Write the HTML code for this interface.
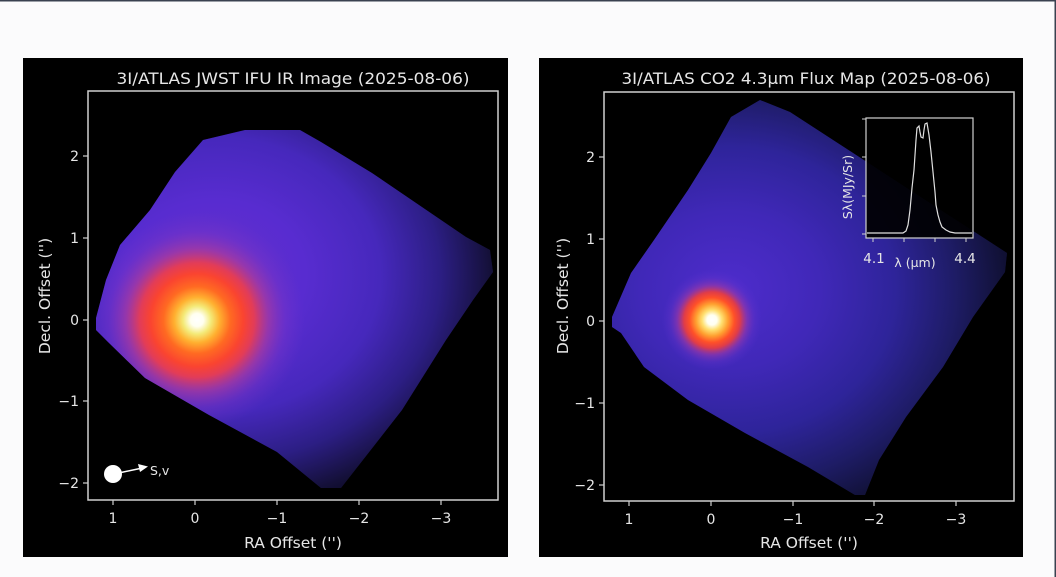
<!DOCTYPE html>
<html><head><meta charset="utf-8"><style>
html,body{margin:0;padding:0;background:#fbfbfc;}
svg{display:block;}
text{font-family:"DejaVu Sans","Liberation Sans",sans-serif;fill:#e6e6e6;}
</style></head><body>
<svg width="1056" height="577" viewBox="0 0 1056 577" xmlns="http://www.w3.org/2000/svg">
<defs>
<clipPath id="cl"><polygon points="96,318 106,280 120,245 150,210 175,172 203,140 245,130 300,130 321,142 372,173 466,237 490,250 493,272 473,300 446,340 402,410 341,488 321,488 277,452 209,415 145,378 108,342 96,330"/></clipPath>
<clipPath id="cr"><polygon points="612,317 631,273 654,240 688,190 711,153 731,117 760,100 790,112 1007,253 1005,272 973,317 943,367 906,417 879,460 865,495 855,495 808,467 745,433 688,400 644,367 621,333 612,327"/></clipPath>
<radialGradient id="gl" cx="0.5" cy="0.5" r="0.5">
<stop offset="0" stop-color="#6630cc"/>
<stop offset="0.3" stop-color="#582cd0"/>
<stop offset="0.55" stop-color="#4628bc"/>
<stop offset="0.75" stop-color="#2c1e84"/>
<stop offset="0.92" stop-color="#141038"/>
<stop offset="1" stop-color="#0a0820"/>
</radialGradient>
<radialGradient id="cl1" cx="0.5" cy="0.5" r="0.5">
<stop offset="0" stop-color="#ffffff"/>
<stop offset="0.06" stop-color="#fffff0"/>
<stop offset="0.13" stop-color="#f4ea78"/>
<stop offset="0.21" stop-color="#ffb030"/>
<stop offset="0.31" stop-color="#ff6a22"/>
<stop offset="0.43" stop-color="#fa4430"/>
<stop offset="0.53" stop-color="#e23c58"/>
<stop offset="0.66" stop-color="#aa3aa0" stop-opacity="0.75"/>
<stop offset="0.82" stop-color="#8236c4" stop-opacity="0.35"/>
<stop offset="1" stop-color="#7034c8" stop-opacity="0"/>
</radialGradient>
<radialGradient id="gr" cx="0.5" cy="0.5" r="0.5">
<stop offset="0" stop-color="#4e2ccc"/>
<stop offset="0.3" stop-color="#4028b8"/>
<stop offset="0.55" stop-color="#2e249a"/>
<stop offset="0.75" stop-color="#1e1c66"/>
<stop offset="0.9" stop-color="#12123a"/>
<stop offset="1" stop-color="#0a0a20"/>
</radialGradient>
<radialGradient id="cr1" cx="0.5" cy="0.5" r="0.5">
<stop offset="0" stop-color="#ffffff"/>
<stop offset="0.1" stop-color="#fffff0"/>
<stop offset="0.2" stop-color="#ffe070"/>
<stop offset="0.32" stop-color="#ffa030"/>
<stop offset="0.45" stop-color="#ff5028"/>
<stop offset="0.56" stop-color="#e03c48"/>
<stop offset="0.7" stop-color="#9a38a8" stop-opacity="0.65"/>
<stop offset="0.85" stop-color="#6a34c8" stop-opacity="0.3"/>
<stop offset="1" stop-color="#5a30d0" stop-opacity="0"/>
</radialGradient>
</defs>

<!-- page edges -->
<rect x="0" y="0" width="1056" height="1.5" fill="#3a4150"/>
<rect x="1054.5" y="0" width="1.5" height="577" fill="#3a4150"/>

<!-- LEFT PANEL -->
<rect x="23" y="58" width="485" height="499" fill="#000"/>
<g clip-path="url(#cl)">
<rect x="80" y="100" width="430" height="400" fill="#0c0a28"/>
<ellipse cx="215" cy="275" rx="300" ry="250" fill="url(#gl)"/>
<circle cx="197" cy="320" r="108" fill="url(#cl1)"/>
</g>
<rect x="88" y="91" width="410" height="409" fill="none" stroke="#cfcfcf" stroke-width="1.5"/>
<text x="293" y="84" font-size="16" text-anchor="middle" textLength="353" lengthAdjust="spacingAndGlyphs">3I/ATLAS JWST IFU IR Image (2025-08-06)</text>
<g stroke="#cfcfcf" stroke-width="1.2">
<line x1="83" y1="156" x2="88" y2="156"/><line x1="83" y1="238" x2="88" y2="238"/><line x1="83" y1="320" x2="88" y2="320"/><line x1="83" y1="401" x2="88" y2="401"/><line x1="83" y1="483" x2="88" y2="483"/>
<line x1="113" y1="500" x2="113" y2="505"/><line x1="195" y1="500" x2="195" y2="505"/><line x1="277" y1="500" x2="277" y2="505"/><line x1="359" y1="500" x2="359" y2="505"/><line x1="441" y1="500" x2="441" y2="505"/>
</g>
<g font-size="14" text-anchor="end">
<text x="79" y="161">2</text><text x="79" y="243">1</text><text x="79" y="325">0</text><text x="79" y="406">−1</text><text x="79" y="488">−2</text>
</g>
<g font-size="14" text-anchor="middle">
<text x="113" y="523">1</text><text x="195" y="523">0</text><text x="277" y="523">−1</text><text x="359" y="523">−2</text><text x="441" y="523">−3</text>
</g>
<text x="293" y="548" font-size="15.5" text-anchor="middle">RA Offset ('')</text>
<text transform="translate(50,296) rotate(-90)" font-size="15.5" text-anchor="middle">Decl. Offset ('')</text>
<circle cx="113" cy="474" r="9" fill="#fff"/>
<line x1="121" y1="472.5" x2="140" y2="468.5" stroke="#fff" stroke-width="1.5"/>
<polygon points="148,466.5 138,464 140,472" fill="#fff"/>
<text x="150" y="475" font-size="12.5">S,v</text>

<!-- RIGHT PANEL -->
<rect x="539" y="58" width="484" height="499" fill="#000"/>
<g clip-path="url(#cr)">
<rect x="600" y="90" width="420" height="420" fill="#0c0a28"/>
<ellipse cx="730" cy="290" rx="300" ry="260" fill="url(#gr)"/>
<circle cx="712" cy="320" r="50" fill="url(#cr1)"/>
</g>
<rect x="604" y="92" width="410" height="409" fill="none" stroke="#cfcfcf" stroke-width="1.5"/>
<text x="806" y="84" font-size="16" text-anchor="middle" textLength="369" lengthAdjust="spacingAndGlyphs">3I/ATLAS CO2 4.3μm Flux Map (2025-08-06)</text>
<g stroke="#cfcfcf" stroke-width="1.2">
<line x1="599" y1="157" x2="604" y2="157"/><line x1="599" y1="239" x2="604" y2="239"/><line x1="599" y1="321" x2="604" y2="321"/><line x1="599" y1="403" x2="604" y2="403"/><line x1="599" y1="485" x2="604" y2="485"/>
<line x1="629" y1="501" x2="629" y2="506"/><line x1="711" y1="501" x2="711" y2="506"/><line x1="793" y1="501" x2="793" y2="506"/><line x1="874" y1="501" x2="874" y2="506"/><line x1="956" y1="501" x2="956" y2="506"/>
</g>
<g font-size="14" text-anchor="end">
<text x="595" y="162">2</text><text x="595" y="244">1</text><text x="595" y="326">0</text><text x="595" y="408">−1</text><text x="595" y="490">−2</text>
</g>
<g font-size="14" text-anchor="middle">
<text x="629" y="524">1</text><text x="711" y="524">0</text><text x="793" y="524">−1</text><text x="874" y="524">−2</text><text x="956" y="524">−3</text>
</g>
<text x="809" y="548" font-size="15.5" text-anchor="middle">RA Offset ('')</text>
<text transform="translate(568,296) rotate(-90)" font-size="15.5" text-anchor="middle">Decl. Offset ('')</text>

<!-- inset -->
<rect x="866" y="118" width="107" height="120" fill="#000" fill-opacity="0.92" stroke="#d0d0d0" stroke-width="1.2"/>
<g stroke="#d0d0d0" stroke-width="1">
<line x1="862" y1="119" x2="866" y2="119"/><line x1="862" y1="157" x2="866" y2="157"/><line x1="862" y1="196" x2="866" y2="196"/><line x1="862" y1="234" x2="866" y2="234"/>
<line x1="873" y1="238" x2="873" y2="242"/><line x1="904" y1="238" x2="904" y2="242"/><line x1="935" y1="238" x2="935" y2="242"/><line x1="966" y1="238" x2="966" y2="242"/>
</g>
<polyline fill="none" stroke="#e0e0e0" stroke-width="1.2" points="867,233 903,233 906,231 908,225 910,210 912,188 914,170 915,155 916,140 917,128 919,126 920,132 921,137 923,138 924,130 925,124 927,123 929,135 931,152 933,172 935,192 936,205 938,215 940,222 942,227 946,230 950,232 955,233 972,233"/>
<text x="874" y="263" font-size="13.5" text-anchor="middle">4.1</text>
<text x="965" y="263" font-size="13.5" text-anchor="middle">4.4</text>
<text x="915" y="267" font-size="12.5" text-anchor="middle">λ (μm)</text>
<text transform="translate(852,187) rotate(-90)" font-size="12.5" text-anchor="middle">Sλ(MJy/Sr)</text>
</svg>
</body></html>
